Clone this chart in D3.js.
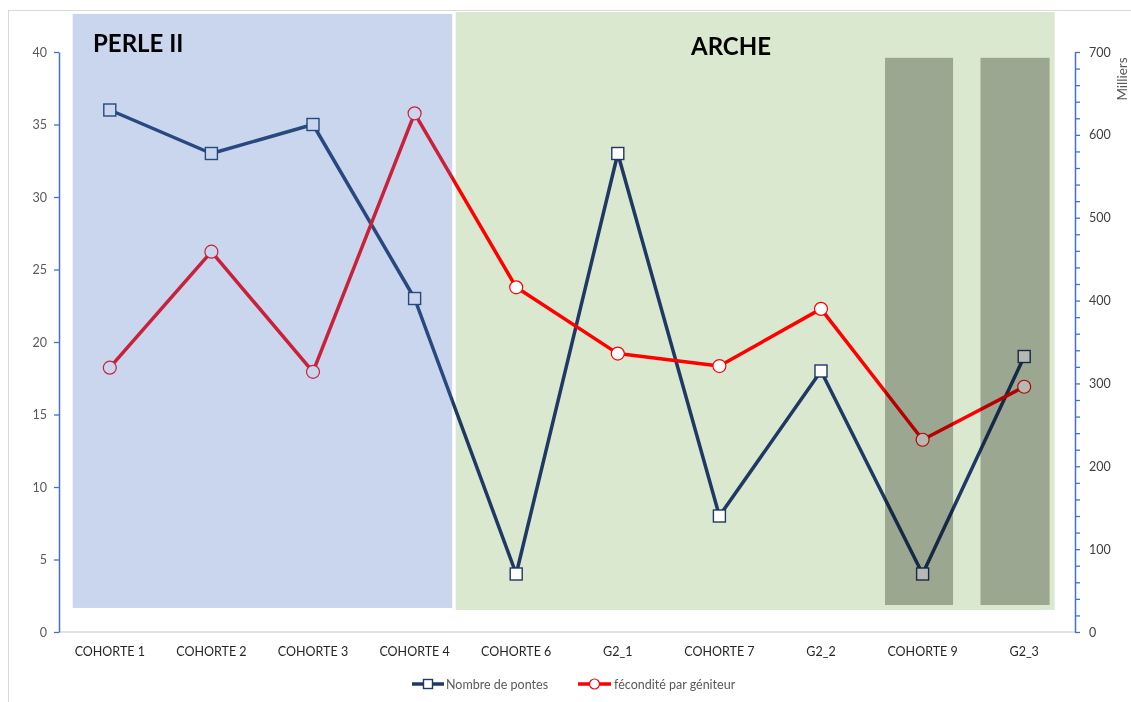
<!DOCTYPE html>
<html>
<head>
<meta charset="utf-8">
<script src="https://cdn.jsdelivr.net/npm/d3@7"></script>
<style>
  body { margin: 0; background: #fff; }
  svg text { font-family: Lato, "Open Sans", sans-serif; }
</style>
</head>
<body>
<svg id="chart" width="1131" height="702"></svg>
<script>
// data
let categories = ["COHORTE 1", "COHORTE 2", "COHORTE 3", "COHORTE 4", "COHORTE 6",
                  "G2_1", "COHORTE 7", "G2_2", "COHORTE 9", "G2_3"];
let pontes = [36, 33, 35, 23, 4, 33, 8, 18, 4, 19];
// fecondite par geniteur, in milliers
let fecondite = [319, 459, 314, 626, 416, 336, 321, 390, 232, 296];
let leftTicks = [0, 5, 10, 15, 20, 25, 30, 35, 40];
let rightTicks = [0, 100, 200, 300, 400, 500, 600, 700];
let seriesNames = ["Nombre de pontes", "fécondité par géniteur"];

// shaded zones (category index units / left axis units)
let zoneLabels = ["PERLE II", "ARCHE"];

let svg = d3.select("#chart");
let margin = {left: 59, right: 56, top: 52, bottom: 70};
let W = 1131, H = 702;
let plotW = W - margin.left - margin.right;   // 1016
let plotH = H - margin.top - margin.bottom;   // 580

let x = d3.scalePoint().domain(d3.range(categories.length))
    .range([margin.left, margin.left + plotW]).padding(0.5);
let step = x.step();
let yL = d3.scaleLinear().domain([0, 40]).range([margin.top + plotH, margin.top]);
let yR = d3.scaleLinear().domain([0, 700]).range([margin.top + plotH, margin.top]);

let xi = function(i) { return x(0) + i * step; };

// chart border
svg.append("rect").attr("x", 8.5).attr("y", 10.5).attr("width", 1300).attr("height", 900)
    .attr("fill", "none").attr("stroke", "#D9D9D9");

// green ARCHE zone behind the lines
svg.append("rect")
    .attr("x", xi(3.405)).attr("y", yL(42.76))
    .attr("width", xi(9.30) - xi(3.405)).attr("height", yL(1.52) - yL(42.76))
    .attr("fill", "#DAE8D0");

// x baseline
svg.append("line").attr("x1", margin.left).attr("x2", margin.left + plotW)
    .attr("y1", yL(0)).attr("y2", yL(0)).attr("stroke", "#D9D9D9").attr("stroke-width", 1.3);

let navy = "#1F3864", red = "#FF0000";

let lineL = d3.line().x(function(d, i) { return x(i); }).y(function(d) { return yL(d); });
let lineR = d3.line().x(function(d, i) { return x(i); }).y(function(d) { return yR(d); });

svg.append("path").datum(pontes).attr("d", lineL)
    .attr("fill", "none").attr("stroke", navy).attr("stroke-width", 3.5).attr("stroke-linejoin", "round");
svg.append("path").datum(fecondite).attr("d", lineR)
    .attr("fill", "none").attr("stroke", red).attr("stroke-width", 3.5).attr("stroke-linejoin", "round");

svg.selectAll(".sq").data(pontes).enter().append("rect")
    .attr("class", "sq")
    .attr("x", function(d, i) { return x(i) - 6; })
    .attr("y", function(d) { return yL(d) - 6; })
    .attr("width", 12).attr("height", 12)
    .attr("fill", "#fff").attr("stroke", navy).attr("stroke-width", 1.4);

svg.selectAll(".ci").data(fecondite).enter().append("circle")
    .attr("class", "ci")
    .attr("cx", function(d, i) { return x(i); })
    .attr("cy", function(d) { return yR(d); })
    .attr("r", 6.5)
    .attr("fill", "#fff").attr("stroke", red).attr("stroke-width", 1.2);

// dark boxes over cohorte 9 and G2_3
let boxes = [[7.63, 8.30], [8.57, 9.25]];
svg.selectAll(".box").data(boxes).enter().append("rect")
    .attr("class", "box")
    .attr("x", function(d) { return xi(d[0]); })
    .attr("y", yL(39.6))
    .attr("width", function(d) { return xi(d[1]) - xi(d[0]); })
    .attr("height", yL(1.86) - yL(39.6))
    .attr("fill", "#B6B8B2")
    .style("mix-blend-mode", "multiply");

// blue PERLE II zone over the lines
svg.append("rect")
    .attr("x", xi(-0.365)).attr("y", yL(42.62))
    .attr("width", xi(3.37) - xi(-0.365)).attr("height", yL(1.66) - yL(42.62))
    .attr("fill", "#4472C4").attr("fill-opacity", 0.29);

// zone labels
svg.append("text").attr("x", 93).attr("y", 52).text(zoneLabels[0])
    .attr("font-size", 24).attr("font-weight", "bold").attr("fill", "#000");
svg.append("text").attr("x", 731).attr("y", 55).text(zoneLabels[1])
    .attr("text-anchor", "middle")
    .attr("font-size", 24).attr("font-weight", "bold").attr("fill", "#000");

// left axis
let axL = svg.append("g").attr("transform", "translate(" + margin.left + ",0)")
    .call(d3.axisLeft(yL).tickValues(leftTicks).tickSize(5).tickPadding(7).tickSizeOuter(0));
axL.select(".domain").attr("stroke", "#4472C4").attr("stroke-width", 1.5);
axL.selectAll(".tick line").attr("stroke", "#4472C4").attr("stroke-width", 1.3);
axL.selectAll(".tick text").attr("fill", "#595959").attr("font-size", 12.5)
    .style("font-family", "Lato, sans-serif");

// right axis
let axR = svg.append("g").attr("transform", "translate(" + (margin.left + plotW) + ",0)")
    .call(d3.axisRight(yR).tickValues(d3.range(0, 701, 20)).tickSize(5).tickPadding(9).tickSizeOuter(0)
        .tickFormat(function(d) { return rightTicks.indexOf(d) >= 0 ? d : ""; }));
axR.select(".domain").attr("stroke", "#4472C4").attr("stroke-width", 1.5);
axR.selectAll(".tick line").attr("stroke", "#4472C4").attr("stroke-width", 1.3);
axR.selectAll(".tick text").attr("fill", "#404040").attr("font-size", 12.5)
    .style("font-family", "Lato, sans-serif");

svg.append("text").attr("transform", "translate(1127,79) rotate(-90)")
    .attr("text-anchor", "middle").attr("font-size", 13.5).attr("fill", "#595959").text("Milliers");

// category labels
svg.selectAll(".cat").data(categories).enter().append("text")
    .attr("class", "cat")
    .attr("x", function(d, i) { return x(i); })
    .attr("y", 656)
    .attr("text-anchor", "middle").attr("font-size", 12.5).attr("fill", "#262626")
    .text(function(d) { return d; });

// legend
let leg = svg.append("g").attr("transform", "translate(0,684)");
leg.append("line").attr("x1", 412).attr("x2", 444).attr("stroke", navy).attr("stroke-width", 3.5);
leg.append("rect").attr("x", 423.5).attr("y", -4.5).attr("width", 9).attr("height", 9)
    .attr("fill", "#fff").attr("stroke", navy).attr("stroke-width", 1.4);
leg.append("text").attr("x", 446).attr("y", 4.5).attr("font-size", 12.5).attr("fill", "#595959").text(seriesNames[0]);
leg.append("line").attr("x1", 578).attr("x2", 611).attr("stroke", red).attr("stroke-width", 3.5);
leg.append("circle").attr("cx", 594.5).attr("cy", 0).attr("r", 5)
    .attr("fill", "#fff").attr("stroke", red).attr("stroke-width", 1.2);
leg.append("text").attr("x", 614).attr("y", 4.5).attr("font-size", 12.5).attr("fill", "#595959").text(seriesNames[1]);
</script>
</body>
</html>
